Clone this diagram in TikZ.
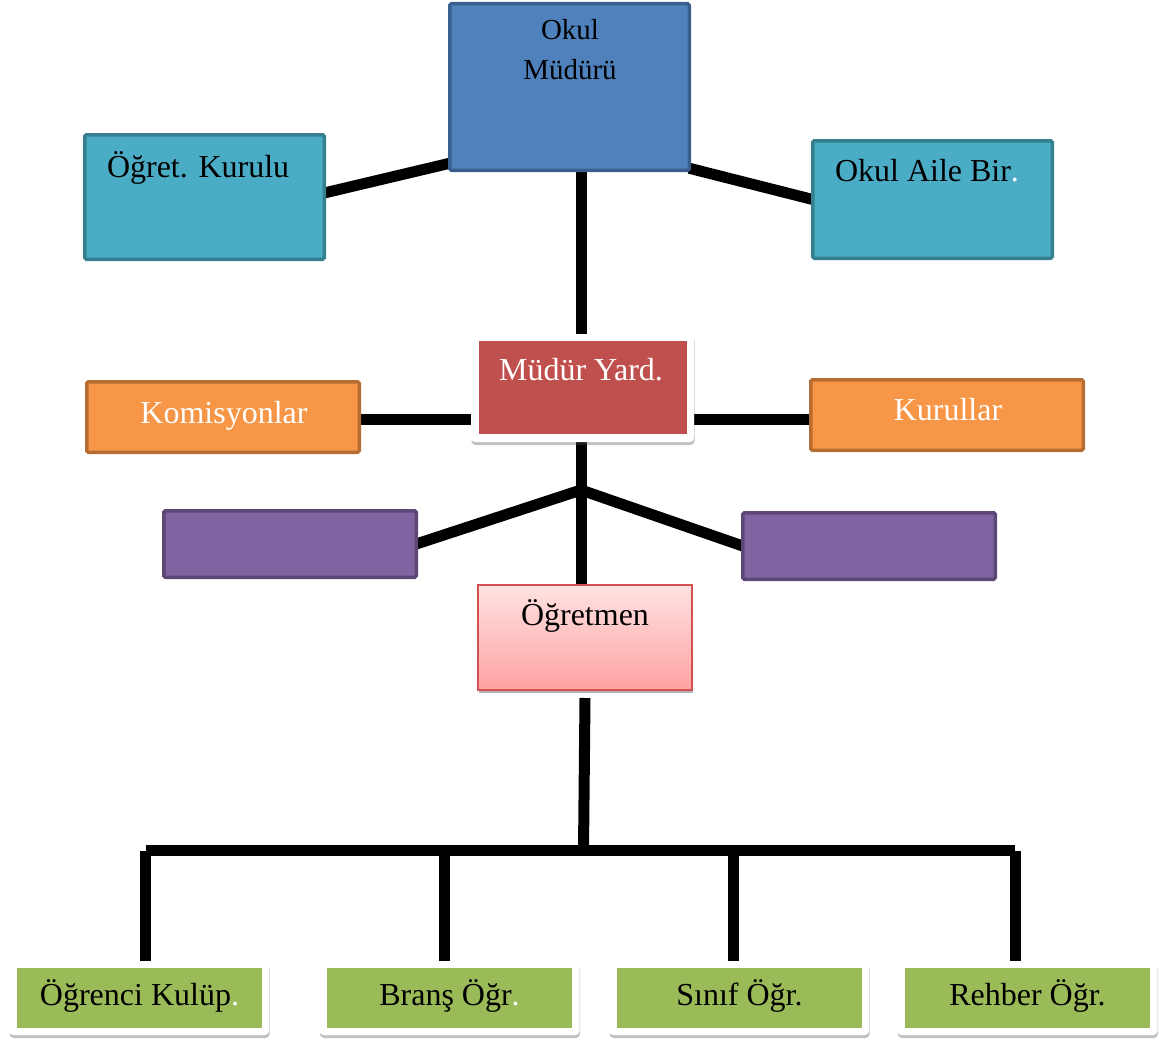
\documentclass[tikz,border=0pt]{standalone}
\usepackage{fontspec}
\setmainfont{Liberation Serif}
\usetikzlibrary{shadows,calc,backgrounds}
\definecolor{mblue}{HTML}{4F81BD}
\definecolor{mblueb}{HTML}{3A5F8E}
\definecolor{cyanf}{HTML}{4BACC6}
\definecolor{cyanb}{HTML}{357F91}
\definecolor{redf}{HTML}{C0504D}
\definecolor{orf}{HTML}{F79646}
\definecolor{orb}{HTML}{B66D31}
\definecolor{puf}{HTML}{8064A2}
\definecolor{pub}{HTML}{5C4776}
\definecolor{grf}{HTML}{9BBB59}
\definecolor{pktop}{HTML}{FFE2E2}
\definecolor{pkbot}{HTML}{FFA2A2}
\definecolor{pkb}{HTML}{D4504F}
\begin{document}
\begin{tikzpicture}[x=1pt,y=-1pt,
  every node/.style={inner sep=0pt, outer sep=0pt},
  box/.style={rectangle, line width=3.5pt, rounded corners=1.5pt},
  frame/.style={rectangle, fill=white, rounded corners=4pt,
    drop shadow={shadow xshift=0.5pt, shadow yshift=-3pt, opacity=0.35, fill=black!70}},
  conn/.style={line width=11pt, black},
  lbl/.style={font=\fontsize{32}{40}\selectfont},
  smalllbl/.style={font=\fontsize{29}{40}\selectfont},
  greenbox/.style={rectangle, fill=grf, minimum width=245pt, minimum height=60pt,
    font=\fontsize{32}{40}\selectfont, text height=22pt, text depth=8pt},
]
\useasboundingbox (0,0) rectangle (1165,1041);

% top level
\node[box, draw=mblueb, fill=mblue, minimum width=239.5pt, minimum height=166.5pt] (mudur) at (569.5,87) {};
\node[smalllbl, anchor=base] (mudurt1) at (570,40) {Okul};
\node[smalllbl, anchor=base] (mudurt2) at (570,80) {Müdürü};

\node[box, draw=cyanb, fill=cyanf, minimum width=239.5pt, minimum height=124.5pt] (kurulu) at (204.5,197) {};
\node[lbl, anchor=base west] (kurulut) at (107,177) {Öğret. Kurulu};

\node[box, draw=cyanb, fill=cyanf, minimum width=239.5pt, minimum height=117.5pt] (aile) at (932.5,199.5) {};
\node[lbl, anchor=base west] (ailet) at (835,181) {Okul Aile Bir\textcolor{white}{.}};

% Müdür Yard.
\node[frame, minimum width=223pt, minimum height=108pt] (yardframe) at (582.5,388) {};
\node[rectangle, fill=redf, minimum width=208pt, minimum height=93pt] (yard) at (583,387.5) {};
\node[lbl, text=white, anchor=base] (yardt) at (581,380) {Müdür Yard.};

\node[box, draw=orb, fill=orf, minimum width=272.5pt, minimum height=70.5pt] (kom) at (223,417) {};
\node[lbl, text=white, anchor=base] (komt) at (224,423) {Komisyonlar};

\node[box, draw=orb, fill=orf, minimum width=272.5pt, minimum height=70.5pt] (kurullar) at (947,415) {};
\node[lbl, text=white, anchor=base] (kurullart) at (948,420) {Kurullar};

% purple
\node[box, draw=pub, fill=puf, minimum width=252.5pt, minimum height=66.5pt] (pl) at (290,544) {};
\node[box, draw=pub, fill=puf, minimum width=252.5pt, minimum height=66.5pt] (pr) at (869,546) {};

% Öğretmen
\node[rectangle, draw=pkb, line width=2pt, top color=pktop, bottom color=pkbot,
  minimum width=214pt, minimum height=105pt,
  drop shadow={shadow xshift=1pt, shadow yshift=-3pt, opacity=0.3, fill=black}] (ogr) at (585,637.5) {};
\node[lbl, anchor=base] (ogrt) at (585,625) {Öğretmen};

% bottom row
\node[frame, minimum width=260pt, minimum height=74pt] (b1) at (139,998) {};
\node[greenbox] (g1) at (139.5,998) {Öğrenci Kulüp\textcolor{white}{.}};
\node[frame, minimum width=260pt, minimum height=74pt] (b2) at (449.5,998) {};
\node[greenbox] (g2) at (449.5,998) {Branş Öğr\textcolor{white}{.}};
\node[frame, minimum width=260pt, minimum height=74pt] (b3) at (739,998) {};
\node[greenbox] (g3) at (739.5,998) {Sınıf Öğr.};
\node[frame, minimum width=260pt, minimum height=74pt] (b4) at (1027.5,998) {};
\node[greenbox] (g4) at (1027.5,998) {Rehber Öğr.};

% connectors
\coordinate (j) at (581,490);
\coordinate (bt) at (583.5,850.5);
\coordinate (bl) at (145.5,850.5);
\coordinate (br) at (1015,850.5);
\coordinate (t1) at (145.5,850.5);
\coordinate (t2) at (444,850.5);
\coordinate (t3) at (733,850.5);
\coordinate (t4) at (1015,850.5);

\begin{scope}[on background layer]
\draw[conn] ([yshift=4pt]kurulu.east) -- ([yshift=7pt]mudur.south west);
\draw[conn] ([yshift=2pt]mudur.south east) -- (aile.west);
\draw[conn] (j |- mudur.south) -- (j |- yardframe.north);
\draw[conn] ([yshift=-2pt]kom.east) -- ([yshift=-2pt]kom.east -| yardframe.west);
\draw[conn] ([yshift=-2pt]yardframe.east |- kom.east) -- ([yshift=-2pt]kurullar.west |- kom.east);
\draw[conn] (j) -- (pl.east);
\draw[conn] (j) -- (pr.west);
\draw[conn] (j |- yardframe.south) -- (j |- ogr.north);
\draw[conn] ([yshift=-8pt]ogr.south) -- (bt);
\draw[conn] (bl) -- (br);
\draw[conn] (t1) -- (t1 |- b1.north);
\draw[conn] (t2) -- (t2 |- b2.north);
\draw[conn] (t3) -- (t3 |- b3.north);
\draw[conn] (t4) -- (t4 |- b4.north);
\end{scope}
\end{tikzpicture}
\end{document}
